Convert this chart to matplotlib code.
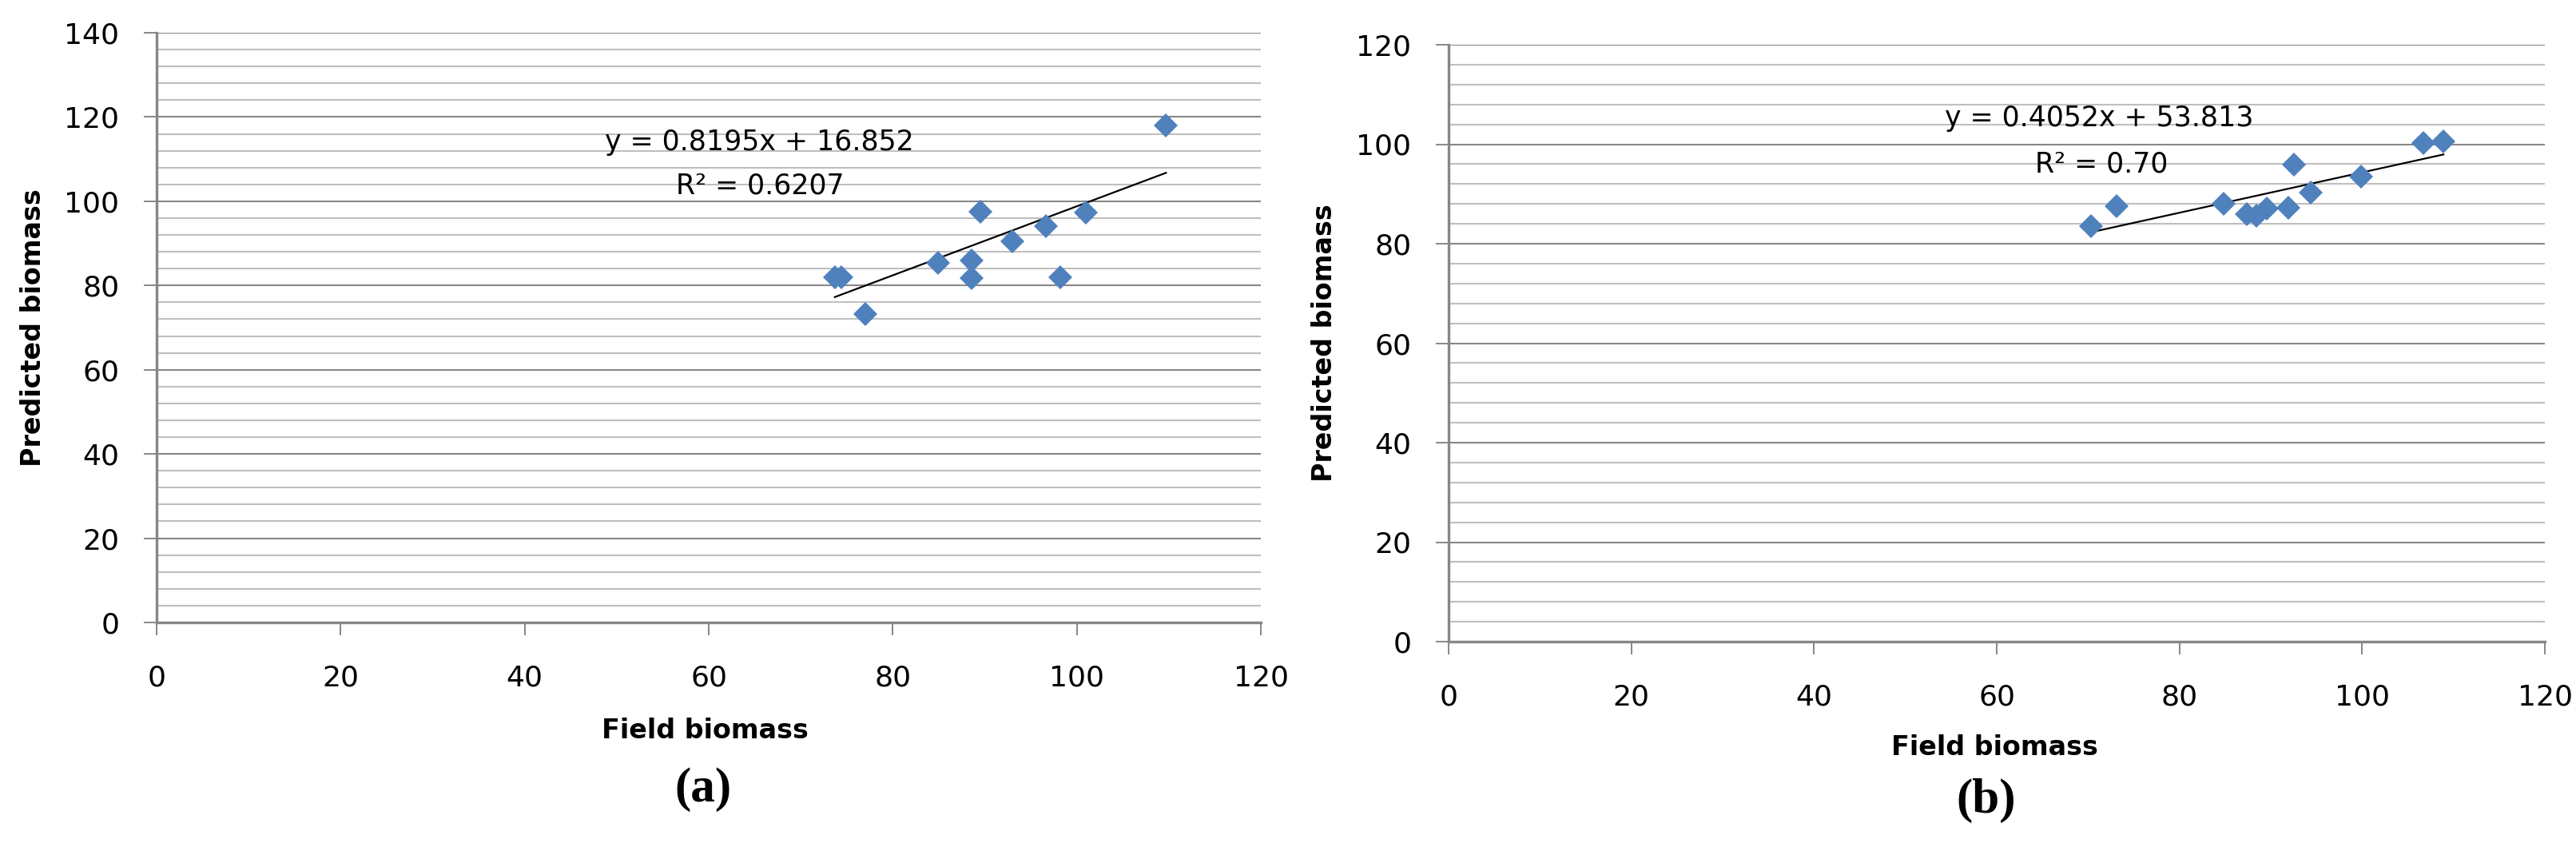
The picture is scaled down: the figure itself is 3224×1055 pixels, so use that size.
import matplotlib
matplotlib.use("Agg")
import matplotlib.pyplot as plt
import numpy as np

# panel (a)
field_a = [109.7, 89.5, 101.0, 96.6, 93.0, 84.9, 88.6, 88.6, 98.2, 73.7, 74.4, 77.0]
pred_a = [117.9, 97.5, 97.3, 94.0, 90.5, 85.3, 86.0, 81.8, 82.0, 81.9, 81.9, 73.3]
slope_a, icpt_a = 0.8195, 16.852
eq_a = "y = 0.8195x + 16.852"
r2_a = "R\u00b2 = 0.6207"

# panel (b)
field_b = [70.3, 73.1, 84.8, 87.4, 88.4, 89.6, 91.9, 92.5, 94.4, 99.9, 106.7, 108.9]
pred_b = [83.5, 87.5, 88.0, 86.0, 85.7, 87.1, 87.2, 95.9, 90.3, 93.5, 100.2, 100.5]
slope_b, icpt_b = 0.4052, 53.813
eq_b = "y = 0.4052x + 53.813"
r2_b = "R\u00b2 = 0.70"

xticks = [0, 20, 40, 60, 80, 100, 120]

W, H = 3224, 1055
fig = plt.figure(figsize=(W / 100, H / 100), dpi=100)
plt.rcParams['font.family'] = 'DejaVu Sans'

blue = '#4F81BD'
major_grey = '#878787'
minor_grey = '#BFBFBF'


def draw_panel(rect, fx, py, slope, icpt, ymax, eq, r2, eq_pos, r2_pos, tag, tag_pos):
    ax = fig.add_axes(rect)
    ax.set_xlim(0, 120)
    ax.set_ylim(0, ymax)
    # excel style grid: major every 20, minor every 4
    for v in np.arange(0, ymax + 0.1, 4):
        if v % 20 == 0:
            ax.axhline(v, color=major_grey, lw=1.5, zorder=1)
        else:
            ax.axhline(v, color=minor_grey, lw=1.5, zorder=1)
    for s in ['top', 'right']:
        ax.spines[s].set_visible(False)
    for s in ['left', 'bottom']:
        ax.spines[s].set_color(major_grey)
        ax.spines[s].set_linewidth(2.4)
        ax.spines[s].set_zorder(2)
    ax.set_xticks(xticks)
    ax.set_yticks(np.arange(0, ymax + 1, 20))
    ax.tick_params(axis='both', direction='out', length=11.5, width=1.4,
                   color=major_grey, labelsize=26)
    ax.tick_params(axis='x', pad=26)
    ax.tick_params(axis='y', pad=22)

    xs = np.array([min(fx), max(fx)])
    ax.plot(xs, slope * xs + icpt, color='black', lw=1.6, zorder=3)
    ax.plot(fx, py, 'D', color=blue, ms=15, mew=0, zorder=4)

    ax.text(eq_pos[0], eq_pos[1], eq, fontsize=25, ha='center', va='center', zorder=5)
    ax.text(r2_pos[0], r2_pos[1], r2, fontsize=25, ha='center', va='center', zorder=5)

    ax.set_xlabel('Field biomass', fontsize=24, fontweight='bold', va='center')
    ax.set_ylabel('Predicted biomass', fontsize=24, fontweight='bold', va='center')
    fig.text(tag_pos[0] / W, 1 - tag_pos[1] / H, tag, fontsize=44, fontweight='bold',
             family='Liberation Serif', ha='center', va='center')
    return ax


ax1 = draw_panel([196 / W, 1 - 779 / H, 1382 / W, 738 / H], field_a, pred_a,
                 slope_a, icpt_a, 140, eq_a, r2_a, (65.5, 114.0), (65.6, 103.6),
                 '(a)', (880, 988))
ax1.xaxis.set_label_coords(0.497, -0.184)
ax1.yaxis.set_label_coords(-0.112, 0.5)

ax2 = draw_panel([1813 / W, 1 - 803 / H, 1372 / W, 747 / H], field_b, pred_b,
                 slope_b, icpt_b, 120, eq_b, r2_b, (71.2, 105.3), (71.5, 96.0),
                 '(b)', (2486, 1002))
ax2.xaxis.set_label_coords(0.498, -0.178)
ax2.yaxis.set_label_coords(-0.113, 0.5)

plt.savefig('out.png', dpi=100)
